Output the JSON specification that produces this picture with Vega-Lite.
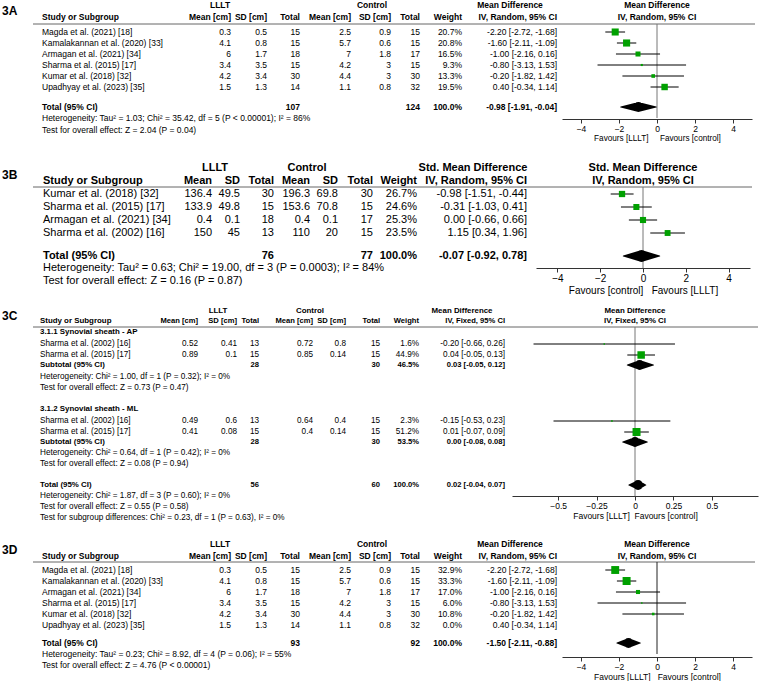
{
  "$schema": "https://vega.github.io/schema/vega-lite/v6.json",
  "padding": 0,
  "background": "white",
  "config": {
    "view": {"stroke": null},
    "font": "Liberation Sans",
    "text": {"color": "#000", "font": "Liberation Sans"},
    "axis": {"labelFont": "Liberation Sans", "titleFont": "Liberation Sans"}
  },
  "datasets": {
    "cells": [
      {"p":"A","r":0,"k":"group","g1":"LLLT","g2":"Control","g3":"Mean Difference"},
      {"p":"A","r":0.5,"k":"label","lab":"3A"},
      {"p":"A","r":1,"k":"head","s":"Study or Subgroup","m1":"Mean [cm]","s1":"SD [cm]","n1":"Total","m2":"Mean [cm]","s2":"SD [cm]","n2":"Total","w":"Weight","ci":"IV, Random, 95% CI"},
      {"p":"A","r":3,"k":"study","s":"Magda et al. (2021) [18]","m1":"0.3","s1":"0.5","n1":"15","m2":"2.5","s2":"0.9","n2":"15","w":"20.7%","ci":"-2.20 [-2.72, -1.68]"},
      {"p":"A","r":4,"k":"study","s":"Kamalakannan et al. (2020) [33]","m1":"4.1","s1":"0.8","n1":"15","m2":"5.7","s2":"0.6","n2":"15","w":"20.8%","ci":"-1.60 [-2.11, -1.09]"},
      {"p":"A","r":5,"k":"study","s":"Armagan et al. (2021) [34]","m1":"6","s1":"1.7","n1":"18","m2":"7","s2":"1.8","n2":"17","w":"16.5%","ci":"-1.00 [-2.16, 0.16]"},
      {"p":"A","r":6,"k":"study","s":"Sharma et al. (2015) [17]","m1":"3.4","s1":"3.5","n1":"15","m2":"4.2","s2":"3","n2":"15","w":"9.3%","ci":"-0.80 [-3.13, 1.53]"},
      {"p":"A","r":7,"k":"study","s":"Kumar et al. (2018) [32]","m1":"4.2","s1":"3.4","n1":"30","m2":"4.4","s2":"3","n2":"30","w":"13.3%","ci":"-0.20 [-1.82, 1.42]"},
      {"p":"A","r":8,"k":"study","s":"Upadhyay et al. (2023) [35]","m1":"1.5","s1":"1.3","n1":"14","m2":"1.1","s2":"0.8","n2":"32","w":"19.5%","ci":"0.40 [-0.34, 1.14]"},
      {"p":"A","r":9,"k":"total","s":"Total (95% CI)","n1":"107","n2":"124","w":"100.0%","ci":"-0.98 [-1.91, -0.04]"},
      {"p":"A","r":10,"k":"note","s":"Heterogeneity: Tau² = 1.03; Chi² = 35.42, df = 5 (P < 0.00001); I² = 86%"},
      {"p":"A","r":11,"k":"note","s":"Test for overall effect: Z = 2.04 (P = 0.04)"},

      {"p":"B","r":0,"k":"group","g1":"LLLT","g2":"Control","g3":"Std. Mean Difference"},
      {"p":"B","r":0.5,"k":"label","lab":"3B"},
      {"p":"B","r":1,"k":"head","s":"Study or Subgroup","m1":"Mean","s1":"SD","n1":"Total","m2":"Mean","s2":"SD","n2":"Total","w":"Weight","ci":"IV, Random, 95% CI"},
      {"p":"B","r":3,"k":"study","s":"Kumar et al. (2018) [32]","m1":"136.4","s1":"49.5","n1":"30","m2":"196.3","s2":"69.8","n2":"30","w":"26.7%","ci":"-0.98 [-1.51, -0.44]"},
      {"p":"B","r":4,"k":"study","s":"Sharma et al. (2015) [17]","m1":"133.9","s1":"49.8","n1":"15","m2":"153.6","s2":"70.8","n2":"15","w":"24.6%","ci":"-0.31 [-1.03, 0.41]"},
      {"p":"B","r":5,"k":"study","s":"Armagan et al. (2021) [34]","m1":"0.4","s1":"0.1","n1":"18","m2":"0.4","s2":"0.1","n2":"17","w":"25.3%","ci":"0.00 [-0.66, 0.66]"},
      {"p":"B","r":6,"k":"study","s":"Sharma et al. (2002) [16]","m1":"150","s1":"45","n1":"13","m2":"110","s2":"20","n2":"15","w":"23.5%","ci":"1.15 [0.34, 1.96]"},
      {"p":"B","r":7,"k":"total","s":"Total (95% CI)","n1":"76","n2":"77","w":"100.0%","ci":"-0.07 [-0.92, 0.78]"},
      {"p":"B","r":8,"k":"note","s":"Heterogeneity: Tau² = 0.63; Chi² = 19.00, df = 3 (P = 0.0003); I² = 84%"},
      {"p":"B","r":9,"k":"note","s":"Test for overall effect: Z = 0.16 (P = 0.87)"},

      {"p":"C","r":0,"k":"group","g1":"LLLT","g2":"Control","g3":"Mean Difference"},
      {"p":"C","r":0.5,"k":"label","lab":"3C"},
      {"p":"C","r":1,"k":"head","s":"Study or Subgroup","m1":"Mean [cm]","s1":"SD [cm]","n1":"Total","m2":"Mean [cm]","s2":"SD [cm]","n2":"Total","w":"Weight","ci":"IV, Fixed, 95% CI"},
      {"p":"C","r":3,"k":"sub","s":"3.1.1 Synovial sheath - AP"},
      {"p":"C","r":4,"k":"study","s":"Sharma et al. (2002) [16]","m1":"0.52","s1":"0.41","n1":"13","m2":"0.72","s2":"0.8","n2":"15","w":"1.6%","ci":"-0.20 [-0.66, 0.26]"},
      {"p":"C","r":5,"k":"study","s":"Sharma et al. (2015) [17]","m1":"0.89","s1":"0.1","n1":"15","m2":"0.85","s2":"0.14","n2":"15","w":"44.9%","ci":"0.04 [-0.05, 0.13]"},
      {"p":"C","r":6,"k":"total","s":"Subtotal (95% CI)","n1":"28","n2":"30","w":"46.5%","ci":"0.03 [-0.05, 0.12]"},
      {"p":"C","r":7,"k":"note","s":"Heterogeneity: Chi² = 1.00, df = 1 (P = 0.32); I² = 0%"},
      {"p":"C","r":8,"k":"note","s":"Test for overall effect: Z = 0.73 (P = 0.47)"},
      {"p":"C","r":9,"k":"sub","s":"3.1.2 Synovial sheath - ML"},
      {"p":"C","r":10,"k":"study","s":"Sharma et al. (2002) [16]","m1":"0.49","s1":"0.6","n1":"13","m2":"0.64","s2":"0.4","n2":"15","w":"2.3%","ci":"-0.15 [-0.53, 0.23]"},
      {"p":"C","r":11,"k":"study","s":"Sharma et al. (2015) [17]","m1":"0.41","s1":"0.08","n1":"15","m2":"0.4","s2":"0.14","n2":"15","w":"51.2%","ci":"0.01 [-0.07, 0.09]"},
      {"p":"C","r":12,"k":"total","s":"Subtotal (95% CI)","n1":"28","n2":"30","w":"53.5%","ci":"0.00 [-0.08, 0.08]"},
      {"p":"C","r":13,"k":"note","s":"Heterogeneity: Chi² = 0.64, df = 1 (P = 0.42); I² = 0%"},
      {"p":"C","r":14,"k":"note","s":"Test for overall effect: Z = 0.08 (P = 0.94)"},
      {"p":"C","r":15,"k":"total","s":"Total (95% CI)","n1":"56","n2":"60","w":"100.0%","ci":"0.02 [-0.04, 0.07]"},
      {"p":"C","r":16,"k":"note","s":"Heterogeneity: Chi² = 1.87, df = 3 (P = 0.60); I² = 0%"},
      {"p":"C","r":17,"k":"note","s":"Test for overall effect: Z = 0.55 (P = 0.58)"},
      {"p":"C","r":18,"k":"note","s":"Test for subgroup differences: Chi² = 0.23, df = 1 (P = 0.63), I² = 0%"},

      {"p":"D","r":0,"k":"group","g1":"LLLT","g2":"Control","g3":"Mean Difference"},
      {"p":"D","r":0.5,"k":"label","lab":"3D"},
      {"p":"D","r":1,"k":"head","s":"Study or Subgroup","m1":"Mean [cm]","s1":"SD [cm]","n1":"Total","m2":"Mean [cm]","s2":"SD [cm]","n2":"Total","w":"Weight","ci":"IV, Random, 95% CI"},
      {"p":"D","r":3,"k":"study","s":"Magda et al. (2021) [18]","m1":"0.3","s1":"0.5","n1":"15","m2":"2.5","s2":"0.9","n2":"15","w":"32.9%","ci":"-2.20 [-2.72, -1.68]"},
      {"p":"D","r":4,"k":"study","s":"Kamalakannan et al. (2020) [33]","m1":"4.1","s1":"0.8","n1":"15","m2":"5.7","s2":"0.6","n2":"15","w":"33.3%","ci":"-1.60 [-2.11, -1.09]"},
      {"p":"D","r":5,"k":"study","s":"Armagan et al. (2021) [34]","m1":"6","s1":"1.7","n1":"18","m2":"7","s2":"1.8","n2":"17","w":"17.0%","ci":"-1.00 [-2.16, 0.16]"},
      {"p":"D","r":6,"k":"study","s":"Sharma et al. (2015) [17]","m1":"3.4","s1":"3.5","n1":"15","m2":"4.2","s2":"3","n2":"15","w":"6.0%","ci":"-0.80 [-3.13, 1.53]"},
      {"p":"D","r":7,"k":"study","s":"Kumar et al. (2018) [32]","m1":"4.2","s1":"3.4","n1":"30","m2":"4.4","s2":"3","n2":"30","w":"10.8%","ci":"-0.20 [-1.82, 1.42]"},
      {"p":"D","r":8,"k":"study","s":"Upadhyay et al. (2023) [35]","m1":"1.5","s1":"1.3","n1":"14","m2":"1.1","s2":"0.8","n2":"32","w":"0.0%","ci":"0.40 [-0.34, 1.14]"},
      {"p":"D","r":9,"k":"total","s":"Total (95% CI)","n1":"93","n2":"92","w":"100.0%","ci":"-1.50 [-2.11, -0.88]"},
      {"p":"D","r":10,"k":"note","s":"Heterogeneity: Tau² = 0.23; Chi² = 8.92, df = 4 (P = 0.06); I² = 55%"},
      {"p":"D","r":11,"k":"note","s":"Test for overall effect: Z = 4.76 (P < 0.00001)"}
    ],
    "forest": [
      {"p":"A","r":0,"k":"fhead","t":"Mean Difference"},
      {"p":"A","r":1,"k":"fhead","t":"IV, Random, 95% CI"},
      {"p":"A","r":3,"k":"study","est":-2.2,"lo":-2.72,"hi":-1.68,"w":20.7},
      {"p":"A","r":4,"k":"study","est":-1.6,"lo":-2.11,"hi":-1.09,"w":20.8},
      {"p":"A","r":5,"k":"study","est":-1.0,"lo":-2.16,"hi":0.16,"w":16.5},
      {"p":"A","r":6,"k":"study","est":-0.8,"lo":-3.13,"hi":1.53,"w":9.3},
      {"p":"A","r":7,"k":"study","est":-0.2,"lo":-1.82,"hi":1.42,"w":13.3},
      {"p":"A","r":8,"k":"study","est":0.4,"lo":-0.34,"hi":1.14,"w":19.5},
      {"p":"A","r":9,"k":"total","est":-0.98,"lo":-1.91,"hi":-0.04},

      {"p":"B","r":0,"k":"fhead","t":"Std. Mean Difference"},
      {"p":"B","r":1,"k":"fhead","t":"IV, Random, 95% CI"},
      {"p":"B","r":3,"k":"study","est":-0.98,"lo":-1.51,"hi":-0.44,"w":26.7},
      {"p":"B","r":4,"k":"study","est":-0.31,"lo":-1.03,"hi":0.41,"w":24.6},
      {"p":"B","r":5,"k":"study","est":0.0,"lo":-0.66,"hi":0.66,"w":25.3},
      {"p":"B","r":6,"k":"study","est":1.15,"lo":0.34,"hi":1.96,"w":23.5},
      {"p":"B","r":7,"k":"total","est":-0.07,"lo":-0.92,"hi":0.78},

      {"p":"C","r":0,"k":"fhead","t":"Mean Difference"},
      {"p":"C","r":1,"k":"fhead","t":"IV, Fixed, 95% CI"},
      {"p":"C","r":4,"k":"study","est":-0.2,"lo":-0.66,"hi":0.26,"w":1.6},
      {"p":"C","r":5,"k":"study","est":0.04,"lo":-0.05,"hi":0.13,"w":44.9},
      {"p":"C","r":6,"k":"total","est":0.03,"lo":-0.05,"hi":0.12},
      {"p":"C","r":10,"k":"study","est":-0.15,"lo":-0.53,"hi":0.23,"w":2.3},
      {"p":"C","r":11,"k":"study","est":0.01,"lo":-0.07,"hi":0.09,"w":51.2},
      {"p":"C","r":12,"k":"total","est":0.0,"lo":-0.08,"hi":0.08},
      {"p":"C","r":15,"k":"total","est":0.02,"lo":-0.04,"hi":0.07},

      {"p":"D","r":0,"k":"fhead","t":"Mean Difference"},
      {"p":"D","r":1,"k":"fhead","t":"IV, Random, 95% CI"},
      {"p":"D","r":3,"k":"study","est":-2.2,"lo":-2.72,"hi":-1.68,"w":32.9},
      {"p":"D","r":4,"k":"study","est":-1.6,"lo":-2.11,"hi":-1.09,"w":33.3},
      {"p":"D","r":5,"k":"study","est":-1.0,"lo":-2.16,"hi":0.16,"w":17.0},
      {"p":"D","r":6,"k":"study","est":-0.8,"lo":-3.13,"hi":1.53,"w":6.0},
      {"p":"D","r":7,"k":"study","est":-0.2,"lo":-1.82,"hi":1.42,"w":10.8},
      {"p":"D","r":8,"k":"study","est":0.4,"lo":-0.34,"hi":1.14,"w":0.0},
      {"p":"D","r":9,"k":"total","est":-1.5,"lo":-2.11,"hi":-0.88}
    ],
    "colkeys": [
      {"key":"lab","col":0},{"key":"s","col":1},{"key":"m1","col":2},{"key":"s1","col":3},{"key":"n1","col":4},
      {"key":"m2","col":5},{"key":"s2","col":6},{"key":"n2","col":7},{"key":"w","col":8},{"key":"ci","col":9},
      {"key":"g1","col":10},{"key":"g2","col":11},{"key":"g3","col":12}
    ]
  },
  "bounds": "flush",
  "spacing": 0,
  "vconcat": [
    {
      "width": 760, "height": 119,
      "data": {"name": "cells"},
      "transform": [
        {"filter": "datum.p == 'A'"},
        {"fold": ["lab","s","m1","s1","n1","m2","s2","n2","w","ci","g1","g2","g3"], "as": ["key","t"]},
        {"filter": "isValid(datum.t)"},
        {"lookup": "key", "from": {"data": {"name": "colkeys"}, "key": "key", "fields": ["col"]}}
      ],
      "resolve": {"scale": {"x": "independent"}, "axis": {"x": "independent"}},
      "layer": [
        {
          "layer": [
            {"data": {"values": [{}]}, "mark": {"type": "rule", "color": "#666", "strokeWidth": 1},
             "encoding": {
               "x": {"datum": 13, "type": "quantitative", "axis": null, "scale": {"domain": [0,1,2,3,4,5,6,7,8,9,10,11,12,13,14], "range": [2,42,231,267,300,351,391,420,462,557,220,372,510,33,755], "nice": false, "zero": false}},
               "x2": {"datum": 14},
               "y": {"datum": 2, "type": "quantitative", "axis": null, "scale": {"domain": [0,1,2,3,4,5,6,7,8,9,10,11], "range": [5,17,24,32,43,54,65,76,87,107,118,129.5], "nice": false, "zero": false}}}},
            {"transform": [{"filter": "datum.col == 0"}], "mark": {"type": "text", "align": "left", "baseline": "middle", "fontSize": 12, "fontWeight": "bold"},
             "encoding": {"x": {"field": "col", "type": "quantitative"}, "y": {"field": "r", "type": "quantitative"}, "text": {"field": "t"}}},
            {"transform": [{"filter": "datum.col == 1 && (datum.k == 'study' || datum.k == 'note')"}], "mark": {"type": "text", "align": "left", "baseline": "middle", "fontSize": 8.5},
             "encoding": {"x": {"field": "col", "type": "quantitative"}, "y": {"field": "r", "type": "quantitative"}, "text": {"field": "t"}}},
            {"transform": [{"filter": "datum.col == 1 && datum.k != 'study' && datum.k != 'note'"}], "mark": {"type": "text", "align": "left", "baseline": "middle", "fontSize": 8.5, "fontWeight": "bold"},
             "encoding": {"x": {"field": "col", "type": "quantitative"}, "y": {"field": "r", "type": "quantitative"}, "text": {"field": "t"}}},
            {"transform": [{"filter": "datum.col >= 2 && datum.col <= 9 && datum.k == 'study'"}], "mark": {"type": "text", "align": "right", "baseline": "middle", "fontSize": 8.5},
             "encoding": {"x": {"field": "col", "type": "quantitative"}, "y": {"field": "r", "type": "quantitative"}, "text": {"field": "t"}}},
            {"transform": [{"filter": "datum.col >= 2 && datum.col <= 9 && datum.k != 'study'"}], "mark": {"type": "text", "align": "right", "baseline": "middle", "fontSize": 8.5, "fontWeight": "bold"},
             "encoding": {"x": {"field": "col", "type": "quantitative"}, "y": {"field": "r", "type": "quantitative"}, "text": {"field": "t"}}},
            {"transform": [{"filter": "datum.col >= 10"}], "mark": {"type": "text", "align": "center", "baseline": "middle", "fontSize": 8.5, "fontWeight": "bold"},
             "encoding": {"x": {"field": "col", "type": "quantitative"}, "y": {"field": "r", "type": "quantitative"}, "text": {"field": "t"}}}
          ]
        },
        {
          "data": {"name": "forest"},
          "transform": [{"filter": "datum.p == 'A'"}],
          "resolve": {"scale": {"size": "independent"}},
          "layer": [
            {"data": {"values": [{}]}, "mark": {"type": "rule", "color": "#777", "strokeWidth": 1},
             "encoding": {
               "x": {"datum": 0, "type": "quantitative", "scale": {"domain": [-5, 5], "range": [562, 752], "nice": false, "zero": false},
                     "axis": {"orient": "bottom", "values": [-4,-2,0,2,4], "format": "~g", "grid": false, "domainColor": "#333", "tickColor": "#333", "tickSize": 4, "labelFontSize": 8.5, "labelPadding": 1, "labelColor": "#000", "title": "Favours [LLLT]\u00a0\u00a0\u00a0\u00a0\u00a0Favours [control]", "titleFontSize": 8.2, "titleFontWeight": "normal", "titleColor": "#000", "titlePadding": 2}},
               "y": {"datum": 2, "type": "quantitative"},
               "y2": {"datum": 10}}},
            {"transform": [{"filter": "datum.k == 'study' && datum.w > 0"}], "mark": {"type": "rule", "color": "#000", "strokeWidth": 1},
             "encoding": {"x": {"field": "lo", "type": "quantitative"}, "x2": {"field": "hi"}, "y": {"field": "r", "type": "quantitative"}}},
            {"transform": [{"filter": "datum.k == 'study' && datum.w > 0"}], "mark": {"type": "point", "shape": "square", "filled": true, "color": "#00a000", "opacity": 1, "strokeWidth": 0},
             "encoding": {"x": {"field": "est", "type": "quantitative"}, "y": {"field": "r", "type": "quantitative"},
                          "size": {"field": "w", "type": "quantitative", "scale": {"type": "pow", "exponent": 3, "domain": [0, 21], "range": [0, 52]}, "legend": null}}},
            {"transform": [{"filter": "datum.k == 'total'"}, {"fold": ["lo","est","hi"], "as": ["part","x"]}, {"window": [{"op": "rank", "as": "idx"}], "sort": [{"field": "x"}], "groupby": ["r"]}],
             "mark": {"type": "trail", "color": "#000"},
             "encoding": {"x": {"field": "x", "type": "quantitative"}, "y": {"field": "r", "type": "quantitative"},
                          "size": {"field": "idx", "type": "quantitative", "scale": {"type": "threshold", "domain": [1.5, 2.5], "range": [0, 10, 0]}, "legend": null},
                          "detail": {"field": "r"}, "order": {"field": "x", "type": "quantitative"}}},
            {"transform": [{"filter": "datum.k == 'fhead'"}], "mark": {"type": "text", "align": "center", "baseline": "middle", "fontSize": 8.5, "fontWeight": "bold"},
             "encoding": {"x": {"datum": 0, "type": "quantitative"}, "y": {"field": "r", "type": "quantitative"}, "text": {"field": "t"}}}
          ]
        }
      ]
    },
    {
      "width": 760, "height": 149,
      "data": {"name": "cells"},
      "transform": [
        {"filter": "datum.p == 'B'"},
        {"fold": ["lab","s","m1","s1","n1","m2","s2","n2","w","ci","g1","g2","g3"], "as": ["key","t"]},
        {"filter": "isValid(datum.t)"},
        {"lookup": "key", "from": {"data": {"name": "colkeys"}, "key": "key", "fields": ["col"]}}
      ],
      "resolve": {"scale": {"x": "independent"}, "axis": {"x": "independent"}},
      "layer": [
        {
          "layer": [
            {"data": {"values": [{}]}, "mark": {"type": "rule", "color": "#666", "strokeWidth": 1},
             "encoding": {
               "x": {"datum": 13, "type": "quantitative", "axis": null, "scale": {"domain": [0,1,2,3,4,5,6,7,8,9,10,11,12,13,14], "range": [2,43,212,240,274,310,338,373,417,527,215,307,473,33,752], "nice": false, "zero": false}},
               "x2": {"datum": 14},
               "y": {"datum": 2, "type": "quantitative", "axis": null, "scale": {"domain": [0,1,2,3,4,5,6,7,8,9], "range": [49,62,68,75,88,101,114,137,149,162], "nice": false, "zero": false}}}},
            {"transform": [{"filter": "datum.col == 0"}], "mark": {"type": "text", "align": "left", "baseline": "middle", "fontSize": 12, "fontWeight": "bold"},
             "encoding": {"x": {"field": "col", "type": "quantitative"}, "y": {"field": "r", "type": "quantitative"}, "text": {"field": "t"}}},
            {"transform": [{"filter": "datum.col == 1 && (datum.k == 'study' || datum.k == 'note')"}], "mark": {"type": "text", "align": "left", "baseline": "middle", "fontSize": 11},
             "encoding": {"x": {"field": "col", "type": "quantitative"}, "y": {"field": "r", "type": "quantitative"}, "text": {"field": "t"}}},
            {"transform": [{"filter": "datum.col == 1 && datum.k != 'study' && datum.k != 'note'"}], "mark": {"type": "text", "align": "left", "baseline": "middle", "fontSize": 11, "fontWeight": "bold"},
             "encoding": {"x": {"field": "col", "type": "quantitative"}, "y": {"field": "r", "type": "quantitative"}, "text": {"field": "t"}}},
            {"transform": [{"filter": "datum.col >= 2 && datum.col <= 9 && datum.k == 'study'"}], "mark": {"type": "text", "align": "right", "baseline": "middle", "fontSize": 11},
             "encoding": {"x": {"field": "col", "type": "quantitative"}, "y": {"field": "r", "type": "quantitative"}, "text": {"field": "t"}}},
            {"transform": [{"filter": "datum.col >= 2 && datum.col <= 9 && datum.k != 'study'"}], "mark": {"type": "text", "align": "right", "baseline": "middle", "fontSize": 11, "fontWeight": "bold"},
             "encoding": {"x": {"field": "col", "type": "quantitative"}, "y": {"field": "r", "type": "quantitative"}, "text": {"field": "t"}}},
            {"transform": [{"filter": "datum.col >= 10"}], "mark": {"type": "text", "align": "center", "baseline": "middle", "fontSize": 11, "fontWeight": "bold"},
             "encoding": {"x": {"field": "col", "type": "quantitative"}, "y": {"field": "r", "type": "quantitative"}, "text": {"field": "t"}}}
          ]
        },
        {
          "data": {"name": "forest"},
          "transform": [{"filter": "datum.p == 'B'"}],
          "resolve": {"scale": {"size": "independent"}},
          "layer": [
            {"data": {"values": [{}]}, "mark": {"type": "rule", "color": "#777", "strokeWidth": 1},
             "encoding": {
               "x": {"datum": 0, "type": "quantitative", "scale": {"domain": [-5, 5], "range": [536, 750], "nice": false, "zero": false},
                     "axis": {"orient": "bottom", "values": [-4,-2,0,2,4], "format": "~g", "grid": false, "domainColor": "#333", "tickColor": "#333", "tickSize": 4, "labelFontSize": 10, "labelPadding": 1, "labelColor": "#000", "title": "Favours [control]\u00a0\u00a0\u00a0Favours [LLLT]", "titleFontSize": 10, "titleFontWeight": "normal", "titleColor": "#000", "titlePadding": 2}},
               "y": {"datum": 2, "type": "quantitative"},
               "y2": {"datum": 8}}},
            {"transform": [{"filter": "datum.k == 'study' && datum.w > 0"}], "mark": {"type": "rule", "color": "#000", "strokeWidth": 1},
             "encoding": {"x": {"field": "lo", "type": "quantitative"}, "x2": {"field": "hi"}, "y": {"field": "r", "type": "quantitative"}}},
            {"transform": [{"filter": "datum.k == 'study' && datum.w > 0"}], "mark": {"type": "point", "shape": "square", "filled": true, "color": "#00a000", "opacity": 1, "strokeWidth": 0},
             "encoding": {"x": {"field": "est", "type": "quantitative"}, "y": {"field": "r", "type": "quantitative"},
                          "size": {"field": "w", "type": "quantitative", "scale": {"domain": [0, 27], "range": [0, 40]}, "legend": null}}},
            {"transform": [{"filter": "datum.k == 'total'"}, {"fold": ["lo","est","hi"], "as": ["part","x"]}, {"window": [{"op": "rank", "as": "idx"}], "sort": [{"field": "x"}], "groupby": ["r"]}],
             "mark": {"type": "trail", "color": "#000"},
             "encoding": {"x": {"field": "x", "type": "quantitative"}, "y": {"field": "r", "type": "quantitative"},
                          "size": {"field": "idx", "type": "quantitative", "scale": {"type": "threshold", "domain": [1.5, 2.5], "range": [0, 12, 0]}, "legend": null},
                          "detail": {"field": "r"}, "order": {"field": "x", "type": "quantitative"}}},
            {"transform": [{"filter": "datum.k == 'fhead'"}], "mark": {"type": "text", "align": "center", "baseline": "middle", "fontSize": 11, "fontWeight": "bold"},
             "encoding": {"x": {"datum": 0, "type": "quantitative"}, "y": {"field": "r", "type": "quantitative"}, "text": {"field": "t"}}}
          ]
        }
      ]
    },
    {
      "width": 760, "height": 228,
      "data": {"name": "cells"},
      "transform": [
        {"filter": "datum.p == 'C'"},
        {"fold": ["lab","s","m1","s1","n1","m2","s2","n2","w","ci","g1","g2","g3"], "as": ["key","t"]},
        {"filter": "isValid(datum.t)"},
        {"lookup": "key", "from": {"data": {"name": "colkeys"}, "key": "key", "fields": ["col"]}}
      ],
      "resolve": {"scale": {"x": "independent"}, "axis": {"x": "independent"}},
      "layer": [
        {
          "layer": [
            {"data": {"values": [{}]}, "mark": {"type": "rule", "color": "#666", "strokeWidth": 1},
             "encoding": {
               "x": {"datum": 13, "type": "quantitative", "axis": null, "scale": {"domain": [0,1,2,3,4,5,6,7,8,9,10,11,12,13,14], "range": [2,40,198,237,259,313,346,380,419,505,218,310,462,33,758], "nice": false, "zero": false}},
               "x2": {"datum": 14},
               "y": {"datum": 2, "type": "quantitative", "axis": null, "scale": {"domain": [0,1,2,3,4,5,6,7,8,9,10,11,12,13,14,15,16,17,18], "range": [43,53,59,64,76,87,97,109,120,141,153,164,174,185,196,217,228,239,250], "nice": false, "zero": false}}}},
            {"transform": [{"filter": "datum.col == 0"}], "mark": {"type": "text", "align": "left", "baseline": "middle", "fontSize": 12, "fontWeight": "bold"},
             "encoding": {"x": {"field": "col", "type": "quantitative"}, "y": {"field": "r", "type": "quantitative"}, "text": {"field": "t"}}},
            {"transform": [{"filter": "datum.col == 1 && (datum.k == 'study' || datum.k == 'note')"}], "mark": {"type": "text", "align": "left", "baseline": "middle", "fontSize": 8.2},
             "encoding": {"x": {"field": "col", "type": "quantitative"}, "y": {"field": "r", "type": "quantitative"}, "text": {"field": "t"}}},
            {"transform": [{"filter": "datum.col == 1 && datum.k != 'study' && datum.k != 'note'"}], "mark": {"type": "text", "align": "left", "baseline": "middle", "fontSize": 7.9, "fontWeight": "bold"},
             "encoding": {"x": {"field": "col", "type": "quantitative"}, "y": {"field": "r", "type": "quantitative"}, "text": {"field": "t"}}},
            {"transform": [{"filter": "datum.col >= 2 && datum.col <= 9 && datum.k == 'study'"}], "mark": {"type": "text", "align": "right", "baseline": "middle", "fontSize": 8.2},
             "encoding": {"x": {"field": "col", "type": "quantitative"}, "y": {"field": "r", "type": "quantitative"}, "text": {"field": "t"}}},
            {"transform": [{"filter": "datum.col >= 2 && datum.col <= 9 && datum.k != 'study'"}], "mark": {"type": "text", "align": "right", "baseline": "middle", "fontSize": 7.6, "fontWeight": "bold"},
             "encoding": {"x": {"field": "col", "type": "quantitative"}, "y": {"field": "r", "type": "quantitative"}, "text": {"field": "t"}}},
            {"transform": [{"filter": "datum.col >= 10"}], "mark": {"type": "text", "align": "center", "baseline": "middle", "fontSize": 7.9, "fontWeight": "bold"},
             "encoding": {"x": {"field": "col", "type": "quantitative"}, "y": {"field": "r", "type": "quantitative"}, "text": {"field": "t"}}}
          ]
        },
        {
          "data": {"name": "forest"},
          "transform": [{"filter": "datum.p == 'C'"}],
          "resolve": {"scale": {"size": "independent"}},
          "layer": [
            {"data": {"values": [{}]}, "mark": {"type": "rule", "color": "#777", "strokeWidth": 1},
             "encoding": {
               "x": {"datum": 0, "type": "quantitative", "scale": {"domain": [-0.8, 0.8], "range": [512, 758], "nice": false, "zero": false},
                     "axis": {"orient": "bottom", "values": [-0.5,-0.25,0,0.25,0.5], "format": ".2~f", "grid": false, "domainColor": "#333", "tickColor": "#333", "tickSize": 4, "labelFontSize": 8.5, "labelPadding": 1, "labelColor": "#000", "title": "Favours [LLLT]\u00a0\u00a0Favours [control]", "titleFontSize": 8.5, "titleFontWeight": "normal", "titleColor": "#000", "titlePadding": 2}},
               "y": {"datum": 2, "type": "quantitative"},
               "y2": {"datum": 16}}},
            {"transform": [{"filter": "datum.k == 'study' && datum.w > 0"}], "mark": {"type": "rule", "color": "#000", "strokeWidth": 1},
             "encoding": {"x": {"field": "lo", "type": "quantitative"}, "x2": {"field": "hi"}, "y": {"field": "r", "type": "quantitative"}}},
            {"transform": [{"filter": "datum.k == 'study' && datum.w > 0"}], "mark": {"type": "point", "shape": "square", "filled": true, "color": "#00a000", "opacity": 1, "strokeWidth": 0},
             "encoding": {"x": {"field": "est", "type": "quantitative"}, "y": {"field": "r", "type": "quantitative"},
                          "size": {"field": "w", "type": "quantitative", "scale": {"domain": [0, 51.2], "range": [0, 64]}, "legend": null}}},
            {"transform": [{"filter": "datum.k == 'total'"}, {"fold": ["lo","est","hi"], "as": ["part","x"]}, {"window": [{"op": "rank", "as": "idx"}], "sort": [{"field": "x"}], "groupby": ["r"]}],
             "mark": {"type": "trail", "color": "#000"},
             "encoding": {"x": {"field": "x", "type": "quantitative"}, "y": {"field": "r", "type": "quantitative"},
                          "size": {"field": "idx", "type": "quantitative", "scale": {"type": "threshold", "domain": [1.5, 2.5], "range": [0, 10, 0]}, "legend": null},
                          "detail": {"field": "r"}, "order": {"field": "x", "type": "quantitative"}}},
            {"transform": [{"filter": "datum.k == 'fhead'"}], "mark": {"type": "text", "align": "center", "baseline": "middle", "fontSize": 7.9, "fontWeight": "bold"},
             "encoding": {"x": {"datum": 0, "type": "quantitative"}, "y": {"field": "r", "type": "quantitative"}, "text": {"field": "t"}}}
          ]
        }
      ]
    },
    {
      "width": 760, "height": 161,
      "data": {"name": "cells"},
      "transform": [
        {"filter": "datum.p == 'D'"},
        {"fold": ["lab","s","m1","s1","n1","m2","s2","n2","w","ci","g1","g2","g3"], "as": ["key","t"]},
        {"filter": "isValid(datum.t)"},
        {"lookup": "key", "from": {"data": {"name": "colkeys"}, "key": "key", "fields": ["col"]}}
      ],
      "resolve": {"scale": {"x": "independent"}, "axis": {"x": "independent"}},
      "layer": [
        {
          "layer": [
            {"data": {"values": [{}]}, "mark": {"type": "rule", "color": "#666", "strokeWidth": 1},
             "encoding": {
               "x": {"datum": 13, "type": "quantitative", "axis": null, "scale": {"domain": [0,1,2,3,4,5,6,7,8,9,10,11,12,13,14], "range": [2,42,231,267,300,351,391,420,462,557,220,372,510,33,755], "nice": false, "zero": false}},
               "x2": {"datum": 14},
               "y": {"datum": 2, "type": "quantitative", "axis": null, "scale": {"domain": [0,1,2,3,4,5,6,7,8,9,10,11], "range": [48,60,66,74,85,96,107,118,129,147,158,169], "nice": false, "zero": false}}}},
            {"transform": [{"filter": "datum.col == 0"}], "mark": {"type": "text", "align": "left", "baseline": "middle", "fontSize": 12, "fontWeight": "bold"},
             "encoding": {"x": {"field": "col", "type": "quantitative"}, "y": {"field": "r", "type": "quantitative"}, "text": {"field": "t"}}},
            {"transform": [{"filter": "datum.col == 1 && (datum.k == 'study' || datum.k == 'note')"}], "mark": {"type": "text", "align": "left", "baseline": "middle", "fontSize": 8.5},
             "encoding": {"x": {"field": "col", "type": "quantitative"}, "y": {"field": "r", "type": "quantitative"}, "text": {"field": "t"}}},
            {"transform": [{"filter": "datum.col == 1 && datum.k != 'study' && datum.k != 'note'"}], "mark": {"type": "text", "align": "left", "baseline": "middle", "fontSize": 8.5, "fontWeight": "bold"},
             "encoding": {"x": {"field": "col", "type": "quantitative"}, "y": {"field": "r", "type": "quantitative"}, "text": {"field": "t"}}},
            {"transform": [{"filter": "datum.col >= 2 && datum.col <= 9 && datum.k == 'study'"}], "mark": {"type": "text", "align": "right", "baseline": "middle", "fontSize": 8.5},
             "encoding": {"x": {"field": "col", "type": "quantitative"}, "y": {"field": "r", "type": "quantitative"}, "text": {"field": "t"}}},
            {"transform": [{"filter": "datum.col >= 2 && datum.col <= 9 && datum.k != 'study'"}], "mark": {"type": "text", "align": "right", "baseline": "middle", "fontSize": 8.5, "fontWeight": "bold"},
             "encoding": {"x": {"field": "col", "type": "quantitative"}, "y": {"field": "r", "type": "quantitative"}, "text": {"field": "t"}}},
            {"transform": [{"filter": "datum.col >= 10"}], "mark": {"type": "text", "align": "center", "baseline": "middle", "fontSize": 8.5, "fontWeight": "bold"},
             "encoding": {"x": {"field": "col", "type": "quantitative"}, "y": {"field": "r", "type": "quantitative"}, "text": {"field": "t"}}}
          ]
        },
        {
          "data": {"name": "forest"},
          "transform": [{"filter": "datum.p == 'D'"}],
          "resolve": {"scale": {"size": "independent"}},
          "layer": [
            {"data": {"values": [{}]}, "mark": {"type": "rule", "color": "#222", "strokeWidth": 1},
             "encoding": {
               "x": {"datum": 0, "type": "quantitative", "scale": {"domain": [-5, 5], "range": [562, 752], "nice": false, "zero": false},
                     "axis": {"orient": "bottom", "values": [-4,-2,0,2,4], "format": "~g", "grid": false, "domainColor": "#333", "tickColor": "#333", "tickSize": 4, "labelFontSize": 8.5, "labelPadding": 1, "labelColor": "#000", "title": "Favours [LLLT]\u00a0\u00a0\u00a0Favours [control]", "titleFontSize": 8.5, "titleFontWeight": "normal", "titleColor": "#000", "titlePadding": 2}},
               "y": {"datum": 2, "type": "quantitative"},
               "y2": {"datum": 10}}},
            {"transform": [{"filter": "datum.k == 'study' && datum.w > 0"}], "mark": {"type": "rule", "color": "#000", "strokeWidth": 1},
             "encoding": {"x": {"field": "lo", "type": "quantitative"}, "x2": {"field": "hi"}, "y": {"field": "r", "type": "quantitative"}}},
            {"transform": [{"filter": "datum.k == 'study' && datum.w > 0"}], "mark": {"type": "point", "shape": "square", "filled": true, "color": "#00a000", "opacity": 1, "strokeWidth": 0},
             "encoding": {"x": {"field": "est", "type": "quantitative"}, "y": {"field": "r", "type": "quantitative"},
                          "size": {"field": "w", "type": "quantitative", "scale": {"type": "pow", "exponent": 2, "domain": [0, 33.3], "range": [0, 64]}, "legend": null}}},
            {"transform": [{"filter": "datum.k == 'total'"}, {"fold": ["lo","est","hi"], "as": ["part","x"]}, {"window": [{"op": "rank", "as": "idx"}], "sort": [{"field": "x"}], "groupby": ["r"]}],
             "mark": {"type": "trail", "color": "#000"},
             "encoding": {"x": {"field": "x", "type": "quantitative"}, "y": {"field": "r", "type": "quantitative"},
                          "size": {"field": "idx", "type": "quantitative", "scale": {"type": "threshold", "domain": [1.5, 2.5], "range": [0, 10, 0]}, "legend": null},
                          "detail": {"field": "r"}, "order": {"field": "x", "type": "quantitative"}}},
            {"transform": [{"filter": "datum.k == 'fhead'"}], "mark": {"type": "text", "align": "center", "baseline": "middle", "fontSize": 8.5, "fontWeight": "bold"},
             "encoding": {"x": {"datum": 0, "type": "quantitative"}, "y": {"field": "r", "type": "quantitative"}, "text": {"field": "t"}}}
          ]
        }
      ]
    }
  ]
}
